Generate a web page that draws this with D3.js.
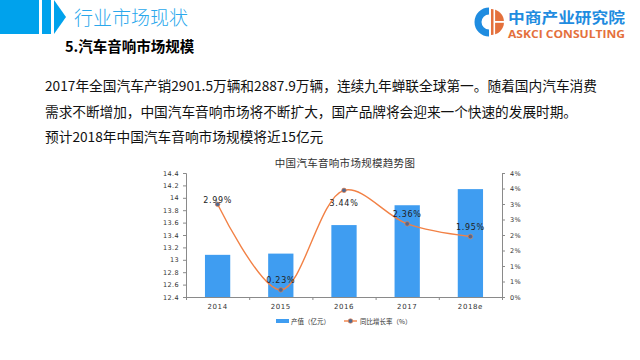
<!DOCTYPE html>
<html><head><meta charset="utf-8">
<script src="https://cdn.jsdelivr.net/npm/d3@7/dist/d3.min.js"></script>
<style>
html,body{margin:0;padding:0;background:#fff;}
svg{display:block;}
</style></head>
<body>
<svg id="c" width="640" height="360"></svg>
<script>
// ---- data ----
const categories = ["2014", "2015", "2016", "2017", "2018e"];
const outputValues = [13.08, 13.10, 13.56, 13.88, 14.14];   // 产值（亿元）
const growthRates = [2.99, 0.23, 3.44, 2.36, 1.95];          // 同比增长率（%）
const growthLabels = ["2.99%", "0.23%", "3.44%", "2.36%", "1.95%"];
const leftTicks = [12.4, 12.6, 12.8, 13.0, 13.2, 13.4, 13.6, 13.8, 14.0, 14.2, 14.4];
const leftTickLabels = ["12.4", "12.6", "12.8", "13", "13.2", "13.4", "13.6", "13.8", "14", "14.2", "14.4"];
const rightTicks = [0, 0.5, 1, 1.5, 2, 2.5, 3, 3.5, 4];
const rightTickLabels = ["0%", "1%", "1%", "2%", "2%", "3%", "3%", "4%", "4%"];
const legendLabels = ["产值（亿元）", "同比增长率（%）"];
const headerTitle = "行业市场现状";
const subTitle = "5.汽车音响市场规模";
const paragraph = [
  "2017年全国汽车产销2901.5万辆和2887.9万辆，连续九年蝉联全球第一。随着国内汽车消费",
  "需求不断增加，中国汽车音响市场将不断扩大，国产品牌将会迎来一个快速的发展时期。",
  "预计2018年中国汽车音响市场规模将近15亿元"
];
const chartTitle = "中国汽车音响市场规模趋势图";

// ---- drawing ----
(function () {
const svg = d3.select("#c");
const CJK = "'Noto Sans CJK SC','Noto Sans',sans-serif";

// header blocks
const hb = "#00A2EC";
svg.append("rect").attr("x", 0).attr("y", 0).attr("width", 39).attr("height", 34).attr("fill", hb);
svg.append("rect").attr("x", 42).attr("y", 0).attr("width", 9).attr("height", 34).attr("fill", hb);
svg.append("path").attr("d", d3.line()([[54, 0], [66, 17], [54, 34]]) + "Z").attr("fill", hb);
svg.append("text").attr("x", 74).attr("y", 25).text(headerTitle)
  .attr("font-family", CJK).attr("font-size", 19).attr("font-weight", 300).attr("fill", "#2AA8EC");

// logo
const lg = svg.append("g").attr("transform", "translate(489,22)");
const arc = d3.arc();
lg.append("path").attr("d", arc({innerRadius: 7.5, outerRadius: 14.5, startAngle: Math.PI * 1.0, endAngle: Math.PI * 2.0}))
  .attr("fill", "#1F8CE0");
lg.append("path").attr("d", arc({innerRadius: 0, outerRadius: 13, startAngle: 0, endAngle: Math.PI}))
  .attr("transform", "translate(2,0)").attr("fill", "#E4703C");
lg.append("rect").attr("x", 4.5).attr("y", -14).attr("width", 1.6).attr("height", 28).attr("fill", "#fff");
lg.append("rect").attr("x", 6).attr("y", -1).attr("width", 10).attr("height", 1.8).attr("fill", "#fff");
svg.append("text").attr("x", 508).attr("y", 23).text("中商产业研究院")
  .attr("font-family", CJK).attr("font-size", 15).attr("font-weight", 700).attr("fill", "#1F8CE0")
  .attr("textLength", 117).attr("lengthAdjust", "spacingAndGlyphs");
svg.append("text").attr("x", 508).attr("y", 38).text("ASKCI CONSULTING")
  .attr("font-family", "'Open Sans',sans-serif").attr("font-size", 10.5).attr("font-weight", 700).attr("fill", "#E4703C")
  .attr("textLength", 117).attr("lengthAdjust", "spacingAndGlyphs");

// subtitle
svg.append("text").attr("x", 65).attr("y", 52).text(subTitle)
  .attr("font-family", CJK).attr("font-size", 14.5).attr("font-weight", 700).attr("fill", "#000");

// paragraph
const paraWidths = [552, 532, null];
paragraph.forEach((t, i) => {
  const tx = svg.append("text").attr("x", 45).attr("y", 91 + i * 25.5).text(t)
    .attr("font-family", CJK).attr("font-size", 13.7).attr("fill", "#111");
  if (paraWidths[i]) tx.attr("textLength", paraWidths[i]).attr("lengthAdjust", "spacing");
});

// chart
const pL = 186, pR = 502, pT = 173, pB = 297;
const x = d3.scaleBand().domain(categories).range([pL, pR]).paddingInner(0.6).paddingOuter(0.3);
const yL = d3.scaleLinear().domain([12.4, 14.4]).range([pB, pT]);
const yR = d3.scaleLinear().domain([0, 4]).range([pB, pT]);
const axisColor = "#8a8a8a";
const tickFont = "'DejaVu Sans',sans-serif";

svg.append("text").attr("x", 345).attr("y", 167).attr("text-anchor", "middle").text(chartTitle)
  .attr("font-family", CJK).attr("font-size", 10.5).attr("fill", "#333").attr("letter-spacing", 0.3);

// bars
svg.append("g").selectAll("rect").data(outputValues).join("rect")
  .attr("x", (d, i) => x(categories[i])).attr("width", x.bandwidth())
  .attr("y", d => yL(d)).attr("height", d => yL(12.4) - yL(d))
  .attr("fill", "#3F9DF1");

// left axis
const axL = svg.append("g").attr("transform", `translate(${pL},0)`)
  .call(d3.axisLeft(yL).tickValues(leftTicks).tickFormat((d, i) => leftTickLabels[i]).tickSize(3).tickPadding(4));
// right axis
const axR = svg.append("g").attr("transform", `translate(${pR},0)`)
  .call(d3.axisRight(yR).tickValues(rightTicks).tickFormat((d, i) => rightTickLabels[i]).tickSize(3).tickPadding(5));
// bottom axis
const step = x.step();
const boundaries = d3.range(categories.length + 1).map(i => pL + i * step);
const axB = svg.append("g").attr("transform", `translate(0,${pB})`)
  .call(d3.axisBottom(d3.scaleLinear().domain([pL, pR]).range([pL, pR]))
    .tickValues(boundaries).tickFormat("").tickSize(3));
svg.append("g").selectAll("text").data(categories).join("text")
  .attr("x", d => x(d) + x.bandwidth() / 2).attr("y", pB + 12).attr("text-anchor", "middle")
  .text(d => d).attr("font-family", tickFont).attr("font-size", 7).attr("fill", "#333").attr("letter-spacing", 0.6);

[axL, axR, axB].forEach(a => {
  a.select(".domain").attr("stroke", axisColor);
  a.selectAll(".tick line").attr("stroke", axisColor);
  a.selectAll(".tick text").attr("font-family", tickFont).attr("font-size", 6.5).attr("fill", "#333").attr("letter-spacing", 0.4);
});

// growth line
const pts = growthRates.map((d, i) => [x(categories[i]) + x.bandwidth() / 2, yR(d)]);
svg.append("path").attr("d", d3.line().curve(d3.curveCatmullRom.alpha(0.5))(pts))
  .attr("fill", "none").attr("stroke", "#F28145").attr("stroke-width", 1.4);
svg.append("g").selectAll("circle").data(pts).join("circle")
  .attr("cx", d => d[0]).attr("cy", d => d[1]).attr("r", 2.3)
  .attr("fill", "#52698F").attr("stroke", "#F28145").attr("stroke-width", 0.6);
// data labels (above the point, except where the curve peaks)
svg.append("g").selectAll("text").data(growthLabels).join("text")
  .attr("x", (d, i) => pts[i][0]).attr("text-anchor", "middle")
  .attr("y", (d, i) => growthRates[i] === d3.max(growthRates) ? pts[i][1] + 16 : pts[i][1] - (i === 0 ? 1 : 7))
  .text(d => d).attr("font-family", tickFont).attr("font-size", 8).attr("fill", "#222").attr("letter-spacing", 0.7);

// legend
const lgY = 321;
svg.append("rect").attr("x", 276).attr("y", lgY - 2).attr("width", 13).attr("height", 4).attr("fill", "#3F9DF1");
svg.append("text").attr("x", 291).attr("y", lgY + 2.5).text(legendLabels[0])
  .attr("font-family", CJK).attr("font-size", 6.5).attr("fill", "#333");
svg.append("line").attr("x1", 344).attr("x2", 357).attr("y1", lgY).attr("y2", lgY).attr("stroke", "#F28145").attr("stroke-width", 1.4);
svg.append("circle").attr("cx", 350.5).attr("cy", lgY).attr("r", 2.3).attr("fill", "#52698F").attr("stroke", "#F28145").attr("stroke-width", 0.6);
svg.append("text").attr("x", 360).attr("y", lgY + 2.5).text(legendLabels[1])
  .attr("font-family", CJK).attr("font-size", 6.5).attr("fill", "#333");
})();
</script>
</body></html>
